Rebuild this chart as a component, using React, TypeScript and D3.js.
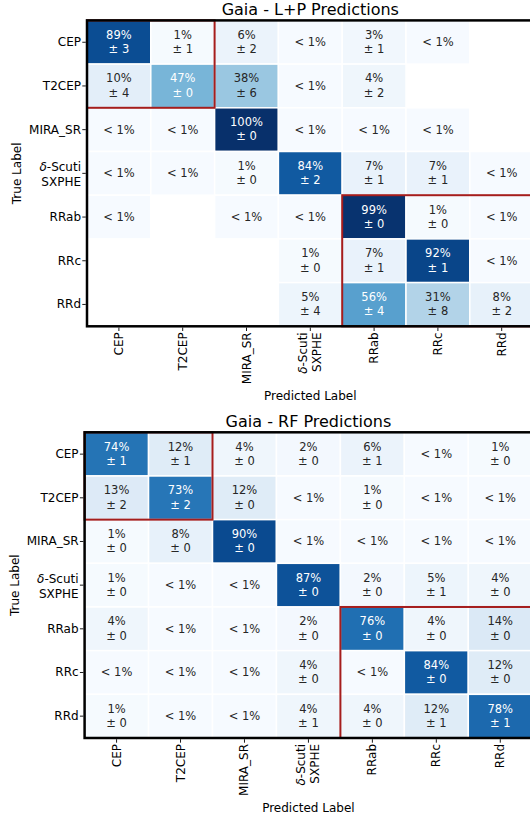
import React from "react";
import * as d3 from "d3";

// Class names (rows = true label, columns = predicted label)
const classes = ["CEP", "T2CEP", "MIRA_SR", "δ-Scuti\nSXPHE", "RRab", "RRc", "RRd"];

// L+P predictions: percentage per cell (0.5 means "< 1%", null = empty cell)
const lpValues: (number | null)[][] = [
  [89, 1, 6, 0.5, 3, 0.5, null],
  [10, 47, 38, 0.5, 4, null, null],
  [0.5, 0.5, 100, 0.5, 0.5, 0.5, null],
  [0.5, 0.5, 1, 84, 7, 7, 0.5],
  [0.5, null, 0.5, 0.5, 99, 1, 0.5],
  [null, null, null, 1, 7, 92, 0.5],
  [null, null, null, 5, 56, 31, 8],
];
const lpErrors: (number | null)[][] = [
  [3, 1, 2, null, 1, null, null],
  [4, 0, 6, null, 2, null, null],
  [null, null, 0, null, null, null, null],
  [null, null, 0, 2, 1, 1, null],
  [null, null, null, null, 0, 0, null],
  [null, null, null, 0, 1, 1, null],
  [null, null, null, 4, 4, 8, 2],
];

// RF predictions
const rfValues: (number | null)[][] = [
  [74, 12, 4, 2, 6, 0.5, 1],
  [13, 73, 12, 0.5, 1, 0.5, 0.5],
  [1, 8, 90, 0.5, 0.5, 0.5, 0.5],
  [1, 0.5, 0.5, 87, 2, 5, 4],
  [4, 0.5, 0.5, 2, 76, 4, 14],
  [0.5, 0.5, 0.5, 4, 0.5, 84, 12],
  [1, 0.5, 0.5, 4, 4, 12, 78],
];
const rfErrors: (number | null)[][] = [
  [1, 1, 0, 0, 1, null, 0],
  [2, 2, 0, null, 0, null, null],
  [0, 0, 0, null, null, null, null],
  [0, null, null, 0, 0, 1, 0],
  [0, null, null, 0, 0, 0, 0],
  [null, null, null, 0, null, 0, 0],
  [0, null, null, 1, 0, 1, 1],
];

// Highlighted groups: [firstIndex, lastIndex] (inclusive)
const groups: [number, number][] = [
  [0, 1],
  [4, 6],
];

const FONT = "DejaVu Sans, sans-serif";
const TEXT_DARK = "#262626";
const RED = "#a51d1d";

type MatrixProps = {
  title: string;
  values: (number | null)[][];
  errors: (number | null)[][];
  left: number;
  top: number;
  colW: number;
  rowH: number;
};

function TickLabel({ text, x, y, rotate, anchor, offsets }: any) {
  const lines = text.split("\n");
  const renderLine = (ln: string) => {
    if (ln.startsWith("δ")) {
      return (
        <>
          <tspan fontStyle="italic">δ</tspan>
          {ln.slice(1)}
        </>
      );
    }
    return ln;
  };
  return (
    <g transform={`translate(${x},${y})${rotate ? " rotate(-90)" : ""}`}>
      {lines.map((ln: string, i: number) => (
        <text
          key={i}
          x={0}
          y={lines.length === 1 ? 0 : offsets[i]}
          textAnchor={anchor}
          dominantBaseline="central"
          fontSize={12}
          fontFamily={FONT}
          fill="#000"
        >
          {renderLine(ln)}
        </text>
      ))}
    </g>
  );
}

function Matrix({ title, values, errors, left, top, colW, rowH }: MatrixProps) {
  const n = classes.length;
  const x = d3.scaleBand<number>().domain(d3.range(n)).range([left, left + n * colW]);
  const y = d3.scaleBand<number>().domain(d3.range(n)).range([top, top + n * rowH]);
  const color = d3.scaleSequential(d3.interpolateBlues).domain([0, 100]);
  const right = left + n * colW;
  const bottom = top + n * rowH;
  const cx = (left + right) / 2;
  const cy = (top + bottom) / 2;

  return (
    <g>
      {values.map((row, i) =>
        row.map((v, j) => {
          if (v === null) return null;
          const e = errors[i][j];
          const tx = (x(j) as number) + colW / 2;
          const ty = (y(i) as number) + rowH / 2;
          const fill = v > 45 ? "#ffffff" : TEXT_DARK;
          return (
            <g key={`${i}-${j}`}>
              <rect
                x={x(j)}
                y={y(i)}
                width={colW}
                height={rowH}
                fill={color(v)}
                stroke="#ffffff"
                strokeWidth={1.5}
              />
              {v < 1 ? (
                <text
                  x={tx}
                  y={ty}
                  textAnchor="middle"
                  dominantBaseline="central"
                  fontSize={11.5}
                  fontFamily={FONT}
                  fill={fill}
                >
                  {"< 1%"}
                </text>
              ) : (
                <>
                  <text
                    x={tx}
                    y={ty - 7.5}
                    textAnchor="middle"
                    dominantBaseline="central"
                    fontSize={11.5}
                    fontFamily={FONT}
                    fill={fill}
                  >
                    {`${v}%`}
                  </text>
                  <text
                    x={tx}
                    y={ty + 6.8}
                    textAnchor="middle"
                    dominantBaseline="central"
                    fontSize={11.5}
                    fontFamily={FONT}
                    fill={fill}
                  >
                    {`± ${e}`}
                  </text>
                </>
              )}
            </g>
          );
        })
      )}
      {/* highlight boxes */}
      {groups.map(([a, b], k) => (
        <rect
          key={`g${k}`}
          x={x(a)}
          y={y(a)}
          width={(x(b) as number) + colW - (x(a) as number)}
          height={(y(b) as number) + rowH - (y(a) as number)}
          fill="none"
          stroke={RED}
          strokeWidth={2}
        />
      ))}
      {/* frame */}
      <rect x={left} y={top} width={right - left} height={bottom - top} fill="none" stroke="#000" strokeWidth={2.5} />
      {/* ticks */}
      {classes.map((c, i) => {
        const ty = (y(i) as number) + rowH / 2;
        const tx = (x(i) as number) + colW / 2;
        return (
          <g key={`t${i}`}>
            <line x1={left - 1.2} x2={left - 4.7} y1={ty} y2={ty} stroke="#000" strokeWidth={0.9} />
            <line x1={tx} x2={tx} y1={bottom + 1.2} y2={bottom + 4.7} stroke="#000" strokeWidth={0.9} />
            <TickLabel text={c} x={left - 6} y={ty} anchor="end" offsets={[-6, 8.5]} />
            <TickLabel text={c} x={tx} y={bottom + 6} anchor="end" rotate offsets={[-7.5, 7]} />
          </g>
        );
      })}
      <text x={cx} y={top - 5} textAnchor="middle" fontSize={16} fontFamily={FONT} fill="#000">
        {title}
      </text>
      <text x={cx} y={bottom + 74} textAnchor="middle" fontSize={12} fontFamily={FONT} fill="#000">
        Predicted Label
      </text>
      <text
        transform={`translate(${left - 66},${cy}) rotate(-90)`}
        textAnchor="middle"
        fontSize={12}
        fontFamily={FONT}
        fill="#000"
      >
        True Label
      </text>
    </g>
  );
}

export default function App() {
  return (
    <svg
      width={530}
      height={817}
      style={{ position: "absolute", left: 0, top: 0, background: "#fff" }}
    >
      <rect width={530} height={817} fill="#fff" />
      <Matrix title="Gaia - L+P Predictions" values={lpValues} errors={lpErrors} left={87} top={20.4} colW={63.8} rowH={43.7} />
      <Matrix title="Gaia - RF Predictions" values={rfValues} errors={rfErrors} left={84.6} top={432.3} colW={63.95} rowH={43.67} />
    </svg>
  );
}
